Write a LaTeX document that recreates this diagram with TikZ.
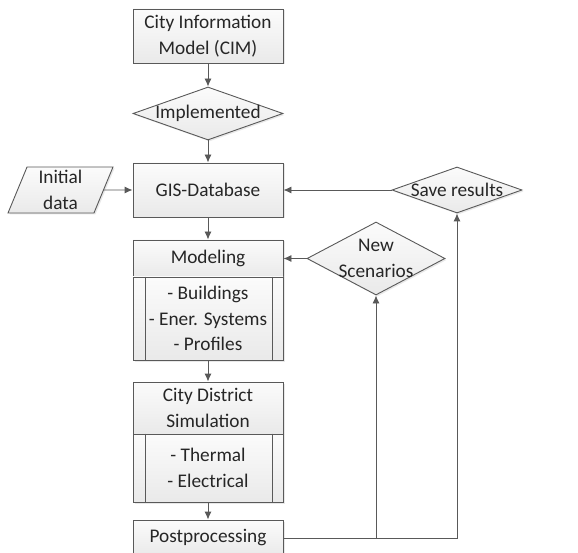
\documentclass[tikz,border=0pt]{standalone}
\usepackage{fontspec}
\setmainfont{Carlito}
\usetikzlibrary{arrows.meta,shapes.geometric,shadows}
\definecolor{linegray}{RGB}{89,89,89}
\definecolor{inkgray}{RGB}{38,38,38}
\newcommand{\slimtext}[1]{\makebox[0pt]{#1}}

\begin{document}
\begin{tikzpicture}[
  x=1pt, y=-1pt,
  arr/.style={draw=linegray, line width=0.9pt, -{Latex[length=8pt,width=7pt]}}
  ]
  \tikzset{
    block/.style={draw=linegray, line width=0.9pt, top color=gray!3, bottom color=gray!17,
      minimum width=150pt, inner sep=0pt, align=center,
      drop shadow={opacity=0.18, shadow xshift=1.5pt, shadow yshift=-1.5pt}},
    decision/.style={block, diamond},
    dataio/.style={block, trapezium, trapezium left angle=64, trapezium right angle=116,
      trapezium stretches body, minimum width=105pt, minimum height=46pt}
  }
  \tikzstyle{every node}=[font=\fontsize{19.3}{25.5}\selectfont, text=inkgray]
  \useasboundingbox (0,0) rectangle (578,553);

  % main column
  \node[block, minimum height=54pt] (cim) at (208,36) {City Information\\Model (CIM)};
  \node[decision, minimum width=150pt, minimum height=53pt] (impl) at (208,113.5) {\slimtext{Implemented}};
  \node[block, minimum height=54pt] (gis) at (208,190) {GIS-Database};
  \node[block, minimum height=37pt] (modhead) at (208,258.5) {Modeling};
  \node[block, minimum height=83pt] (modbody) at (208,318.5) {- Buildings\\- Ener. Systems\\- Profiles};
  \node[block, minimum height=52pt] (simhead) at (208,408) {City District\\Simulation};
  \node[block, minimum height=68pt] (simbody) at (208,468) {- Thermal\\- Electrical};
  \node[block, minimum height=36pt] (post) at (208,538) {Postprocessing};

  % side nodes
  \node[dataio] (init) at (60.5,190) {Initial\\data};
  \node[decision, minimum width=130pt, minimum height=46pt] (save) at (457,190) {\slimtext{Save results}};
  \node[decision, minimum width=138pt, minimum height=73pt] (newscen) at (376,258.5) {\slimtext{New}\\\slimtext{Scenarios}};

  % process bars
  \foreach \b in {modbody, simbody} {
    \draw[linegray, line width=0.9pt] ([xshift=13pt]\b.north west) -- ([xshift=13pt]\b.south west);
    \draw[linegray, line width=0.9pt] ([xshift=-11pt]\b.north east) -- ([xshift=-11pt]\b.south east);
  }

  \draw[arr] (cim) -- (impl);
  \draw[arr] (impl) -- (gis);
  \draw[arr] (init) -- (gis);
  \draw[arr] (save) -- (gis);
  \draw[arr] (gis) -- (modhead);
  \draw[arr] (newscen) -- (modhead);
  \draw[arr] (modbody) -- (simhead);
  \draw[arr] (simbody) -- (post);
  \draw[arr] (post.east) -| (save.south);
  \draw[arr] (post.east) -| (newscen.south);

\end{tikzpicture}
\end{document}
